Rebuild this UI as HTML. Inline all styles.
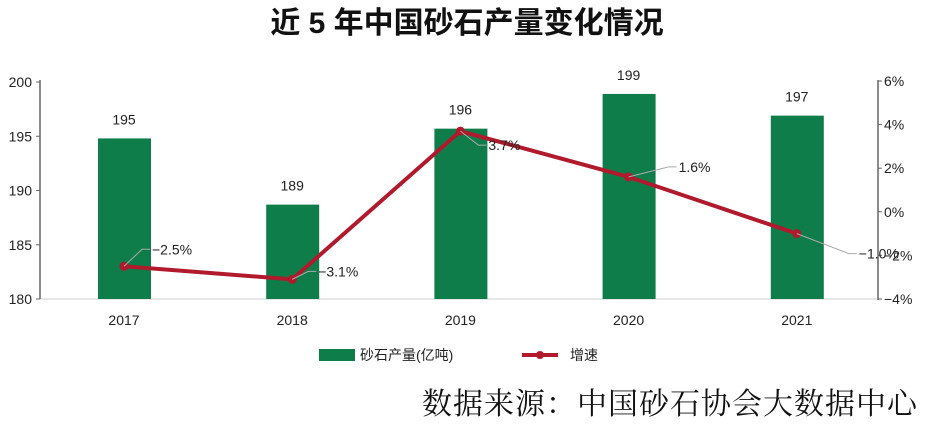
<!DOCTYPE html>
<html><head><meta charset="utf-8"><style>
body{margin:0;background:#fff;width:934px;height:425px;overflow:hidden;font-family:"Liberation Sans","Noto Sans CJK SC",sans-serif}
svg text{font-family:"Liberation Sans","Noto Sans CJK SC",sans-serif}
</style></head><body>
<svg width="934" height="425">
<text x="467" y="33" text-anchor="middle" font-size="30" font-weight="bold" fill="#111">近 5 年中国砂石产量变化情况</text>
<g id="plot"></g>
<g>
<rect x="319" y="349" width="36" height="12" fill="#0e7d4a"/>
<text x="360" y="360" font-size="14" fill="#222">砂石产量(亿吨)</text>
<line x1="522" y1="355" x2="558" y2="355" stroke="#b01a2c" stroke-width="4"/>
<circle cx="540" cy="355" r="4" fill="#b01a2c"/>
<text x="570" y="360" font-size="14" fill="#222">增速</text>
</g>
<text x="918" y="414" text-anchor="end" font-size="30" fill="#111" style="font-family:'Liberation Serif','Noto Serif CJK SC',serif;letter-spacing:1px">数据来源：中国砂石协会大数据中心</text>
</svg>
<script>
const categories=["2017","2018","2019","2020","2021"];
const production=[194.8,188.7,195.7,198.9,196.9];
const productionLabels=["195","189","196","199","197"];
const growth=[-2.5,-3.1,3.7,1.6,-1.0];
const growthLabels=["−2.5%","−3.1%","3.7%","1.6%","−1.0%"];
const leftTicks=[180,185,190,195,200];
const rightTicks=[-4,-2,0,2,4,6];
const rightTickLabels=["−4%","−2%","0%","2%","4%","6%"];
const NS="http://www.w3.org/2000/svg";
const g=document.getElementById('plot');
const X0=40,X1=878,Y0=299,Y1=82;
const yL=v=>Y0-(v-180)/20*(Y0-Y1);
const yR=v=>Y0-(v+4)/10*(Y0-Y1+1);
const xC=i=>124+i*168.2;
function el(t,a,txt){const e=document.createElementNS(NS,t);for(const k in a)e.setAttribute(k,a[k]);if(txt!=null)e.textContent=txt;g.appendChild(e);return e;}
let e;
e=el('line',{x1:X0,y1:Y0,x2:X1,y2:Y0,stroke:'#ccc','stroke-width':1});

e=el('line',{x1:X0,y1:Y1-2,x2:X0,y2:Y0,stroke:'#666','stroke-width':1.5});

e=el('line',{x1:X1,y1:Y1-2,x2:X1,y2:Y0+1,stroke:'#666','stroke-width':1.5});

leftTicks.forEach(v=>{
 e=el('line',{x1:X0-4,y1:yL(v),x2:X0,y2:yL(v),stroke:'#666'});
 
 e=el('text',{x:X0-8,y:yL(v)+5,'text-anchor':'end','font-size':14,fill:'#222'},v);
 
});
rightTicks.forEach((v,i)=>{
 e=el('line',{x1:X1,y1:yR(v),x2:X1+4,y2:yR(v),stroke:'#666'});
 
 e=el('text',{x:X1+6,y:yR(v)+5,'font-size':14,fill:'#222'},rightTickLabels[i]);
 
});
categories.forEach((c,i)=>{
 const y=yL(production[i]);
 e=el('rect',{x:xC(i)-26,y:y,width:53,height:Y0-y,fill:'#0e7d4a'});
 
 e=el('text',{x:xC(i),y:y-14,'text-anchor':'middle','font-size':14,fill:'#222'},productionLabels[i]);
 
 e=el('text',{x:xC(i),y:325,'text-anchor':'middle','font-size':14,fill:'#222'},c);
 
});
e=el('polyline',{points:growth.map((v,i)=>xC(i)+','+yR(v)).join(' '),fill:'none',stroke:'#b01a2c','stroke-width':4,'stroke-linejoin':'round'});

const off=[[28,-17],[26,-8],[28,14],[50,-10],[62,20]];
growth.forEach((v,i)=>{
 const x=xC(i),y=yR(v);
 e=el('circle',{cx:x,cy:y,r:4.5,fill:'#b01a2c'});
 
 const [dx,dy]=off[i];
 e=el('polyline',{points:`${x},${y} ${x+dx-10},${y+dy} ${x+dx-2},${y+dy}`,fill:'none',stroke:'#aaa','stroke-width':1});
 
 e=el('text',{x:x+dx,y:y+dy+5,'font-size':14,fill:'#222'},growthLabels[i]);
 
});
</script>
</body></html>
